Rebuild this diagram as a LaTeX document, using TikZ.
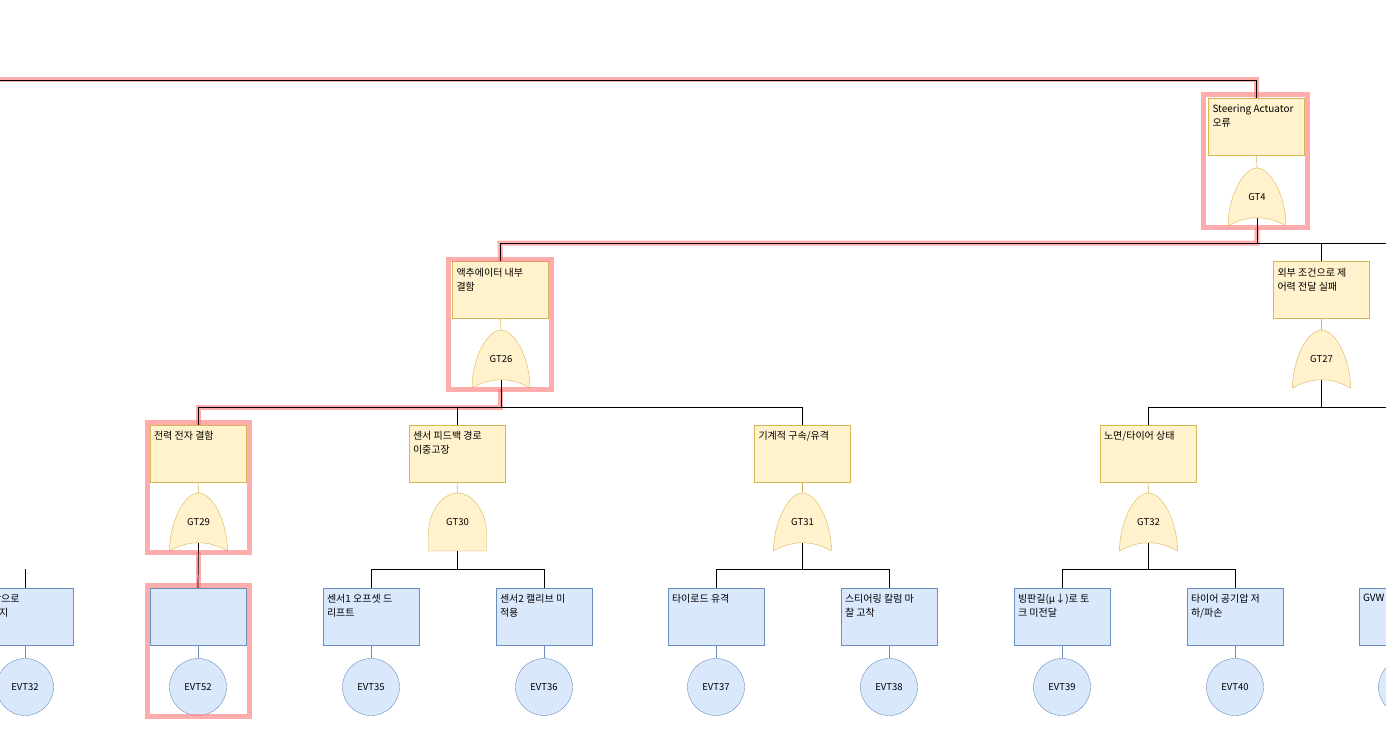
\documentclass[tikz,border=0pt]{standalone}
\usepackage{fontspec}
\setmainfont{Noto Sans CJK KR}
\usetikzlibrary{calc}
\definecolor{gatefill}{HTML}{FFF2CC}
\definecolor{gateline}{HTML}{D6B656}
\definecolor{evfill}{HTML}{DAE8FC}
\definecolor{evline}{HTML}{6C8EBF}
\definecolor{hilite}{HTML}{FF8080}
\newcommand{\boxtxt}[1]{\parbox[t][44pt][t]{88pt}{\raggedright #1}}
\tikzset{
  gatebox/.style={draw=gateline,fill=gatefill,minimum width=96pt,minimum height=57pt,inner sep=4pt,font=\fontsize{10}{14}\selectfont},
  evbox/.style={draw=evline,fill=evfill,minimum width=96pt,minimum height=57pt,inner sep=4pt,font=\fontsize{10}{14}\selectfont},
  evcirc/.style={draw=evline,fill=evfill,circle,minimum size=57pt,inner sep=0pt,font=\fontsize{9.5}{10}\selectfont},
  gate/.style={minimum width=58pt,minimum height=58pt,inner sep=0pt},
  gatelbl/.style={font=\fontsize{9.5}{10}\selectfont},
  wire/.style={black,line width=0.7pt},
  ywire/.style={gateline,line width=0.6pt},
  bwire/.style={evline,line width=0.6pt},
  redpath/.style={hilite,opacity=0.65,line width=5pt},
  orgate/.pic={\draw[gateline,fill=gatefill] (-29,29) .. controls (-29,0) and (-14,-29) .. (0,-29)
     .. controls (14,-29) and (29,0) .. (29,29) .. controls (10,18) and (-10,18) .. (-29,29) -- cycle;},
  andgate/.pic={\draw[gateline,fill=gatefill] (-29,29) -- (-29,12) .. controls (-29,-12) and (-14,-29) .. (0,-29)
     .. controls (14,-29) and (29,-12) .. (29,12) -- (29,29) -- cycle;}
}
\begin{document}
\begin{tikzpicture}[x=1pt,y=-1pt]
\useasboundingbox (0,0) rectangle (1386,754);
\clip (0,0) rectangle (1386,754);

% top event
\node[gatebox] (b4) at (1256.5,126.5) {\boxtxt{Steering Actuator\\오류}};
\node[gate] (g4) at (1257,197) {}; \pic at (g4) {orgate}; \node[gatelbl] at (g4) {GT4};

% level 2
\node[gatebox] (b26) at (500.5,290) {\boxtxt{액추에이터 내부\\결함}};
\node[gate] (g26) at (501,359) {}; \pic at (g26) {orgate}; \node[gatelbl] at (g26) {GT26};
\node[gatebox] (b27) at (1321.5,290) {\boxtxt{외부 조건으로 제\\어력 전달 실패}};
\node[gate] (g27) at (1321.5,359) {}; \pic at (g27) {orgate}; \node[gatelbl] at (g27) {GT27};

% level 3
\node[gatebox] (b29) at (198,453.5) {\boxtxt{전력 전자 결함}};
\node[gate] (g29) at (198.5,522) {}; \pic at (g29) {orgate}; \node[gatelbl] at (g29) {GT29};
\node[gatebox] (b30) at (457,453.5) {\boxtxt{센서 피드백 경로\\이중고장}};
\node[gate] (g30) at (457.5,522) {}; \pic at (g30) {andgate}; \node[gatelbl] at (g30) {GT30};
\node[gatebox] (b31) at (802.5,453.5) {\boxtxt{기계적 구속/유격}};
\node[gate] (g31) at (802.5,522) {}; \pic at (g31) {orgate}; \node[gatelbl] at (g31) {GT31};
\node[gatebox] (b32) at (1148,453.5) {\boxtxt{노면/타이어 상태}};
\node[gate] (g32) at (1148.5,522) {}; \pic at (g32) {orgate}; \node[gatelbl] at (g32) {GT32};

% basic events
\node[evbox] (e32) at (25,616.5)   {\boxtxt{\hspace*{-30pt}Vortex 교착으로\\\hspace*{-30pt}제어루프 정지}};
\node[evbox] (e52) at (198,616.5)  {\boxtxt{}};
\node[evbox] (e35) at (371,616.5)  {\boxtxt{센서1 오프셋 드\\리프트}};
\node[evbox] (e36) at (544,616.5)  {\boxtxt{센서2 캘리브 미\\적용}};
\node[evbox] (e37) at (716,616.5)  {\boxtxt{타이로드 유격}};
\node[evbox] (e38) at (889,616.5)  {\boxtxt{스티어링 칼럼 마\\찰 고착}};
\node[evbox] (e39) at (1062,616.5) {\boxtxt{빙판길(μ↓)로 토\\크 미전달}};
\node[evbox] (e40) at (1235,616.5) {\boxtxt{타이어 공기압 저\\하/파손}};
\node[evbox] (e41) at (1407,616.5) {\boxtxt{GVW}};
\foreach \e/\n in {e32/EVT32,e52/EVT52,e35/EVT35,e36/EVT36,e37/EVT37,e38/EVT38,e39/EVT39,e40/EVT40}{
  \node[evcirc] (c\n) at ($(\e)+(0,70.5)$) {\n};
  \draw[bwire] (\e.south) -- (c\n.north);
}
\node[evcirc] (cEVT41) at ($(e41)+(0,70.5)$) {};
\draw[bwire] (e41.south) -- (cEVT41.north);

% box to gate
\foreach \b/\g in {b4/g4,b26/g26,b27/g27,b29/g29,b30/g30,b31/g31,b32/g32}
  \draw[ywire] (\b.south) -- (\g.north);

% highlighted path
\draw[redpath] (0,80) -| (b4.north);
\draw[redpath] (1203,95) rectangle (1307,227);
\draw[redpath] (1257,227) |- (500,243) -- (b26.north);
\draw[redpath] (448,259) rectangle (551,389);
\draw[redpath] (500,389) |- (198,407) -- (b29.north);
\draw[redpath] (147,422) rectangle (249,552);
\draw[redpath] (198,552) -- (e52.north);
\draw[redpath] (147,585) rectangle (249,716);

% connectors
\coordinate (top) at (0,80);
\coordinate (j4) at (1257,243);
\coordinate (j26) at (501,407);
\coordinate (j27) at (1321.5,407);
\coordinate (j30) at (457.5,569);
\coordinate (j31) at (802.5,569);
\coordinate (j32) at (1148.5,569);
\coordinate (j28) at (25,569);
\coordinate (rim) at (1400,0);
\draw[wire] (top) -| (b4.north);
\draw[wire] ([yshift=8pt]g4.south) -- (j4) -| (b26.north);
\draw[wire] (j4) -| (b27.north);
\draw[wire] (j4) -- (j4 -| rim);
\draw[wire] ([yshift=8pt]g26.south) -- (j26) -| (b29.north);
\draw[wire] (j26) -| (b30.north);
\draw[wire] (j26) -| (b31.north);
\draw[wire] ([yshift=8pt]g27.south) -- (j27) -| (b32.north);
\draw[wire] (j27) -- (j27 -| rim);
\draw[wire] ([yshift=8pt]g29.south) -- (e52.north);
\draw[wire] (g30.south) -- (j30) -| (e35.north);
\draw[wire] (j30) -| (e36.north);
\draw[wire] ([yshift=8pt]g31.south) -- (j31) -| (e37.north);
\draw[wire] (j31) -| (e38.north);
\draw[wire] ([yshift=8pt]g32.south) -- (j32) -| (e39.north);
\draw[wire] (j32) -| (e40.north);
\draw[wire] (j28) -- (e32.north);
\end{tikzpicture}
\end{document}
